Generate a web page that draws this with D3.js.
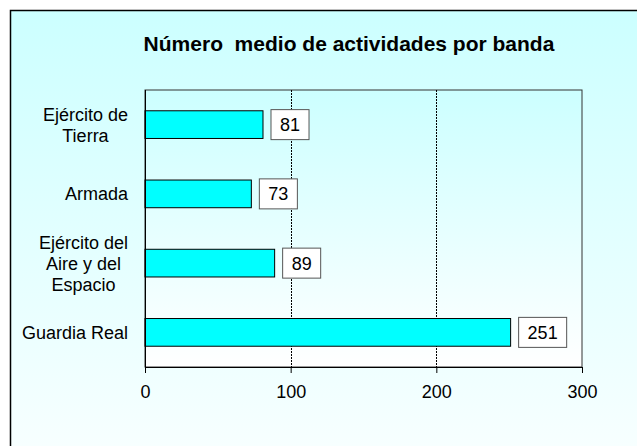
<!DOCTYPE html>
<html>
<head>
<meta charset="utf-8">
<script src="https://cdn.jsdelivr.net/npm/d3@7"></script>
<style>
  body { margin: 0; background: #fff; }
  text { font-family: "Liberation Sans", Arial, sans-serif; fill: #000; }
</style>
</head>
<body>
<svg id="chart" width="637" height="446"></svg>
<script>
const categories = ["Ejército de Tierra", "Armada", "Ejército del Aire y del Espacio", "Guardia Real"];
const labelLines = [["Ejército de", "Tierra"], ["Armada"], ["Ejército del", "Aire y del", "Espacio"], ["Guardia Real"]];
const values = [81, 73, 89, 251];
const xTicks = [0, 100, 200, 300];
const title = "Número\u00a0 medio de actividades por banda";

const svg = d3.select('#chart');
const width = 637, height = 446;
const margin = {top: 90, left: 145, right: 55, bottom: 79};
const innerWidth = width - margin.left - margin.right;
const innerHeight = height - margin.top - margin.bottom;

// gradients
const defs = svg.append('defs');
const outerGrad = defs.append('linearGradient').attr('id', 'outerGrad')
    .attr('x1', 0).attr('y1', 0).attr('x2', 0).attr('y2', 1);
outerGrad.append('stop').attr('offset', '0%').attr('stop-color', '#ccffff');
outerGrad.append('stop').attr('offset', '100%').attr('stop-color', '#f7ffff');
const plotGrad = defs.append('linearGradient').attr('id', 'plotGrad')
    .attr('x1', 0).attr('y1', 0).attr('x2', 0).attr('y2', 1);
plotGrad.append('stop').attr('offset', '0%').attr('stop-color', '#ccffff');
plotGrad.append('stop').attr('offset', '100%').attr('stop-color', '#ffffff');

svg.append('rect').attr('x', 0).attr('y', 0).attr('width', width).attr('height', height).attr('fill', '#fff');
svg.append('rect')
    .attr('x', 11).attr('y', 11)
    .attr('width', width - 11).attr('height', height - 11)
    .attr('fill', 'url(#outerGrad)');
// outer frame runs past the right and bottom edges like the reference
svg.append('path')
    .attr('d', 'M10.5,' + height + 'V10.5H' + width)
    .attr('fill', 'none')
    .attr('stroke', '#000').attr('stroke-width', 1.5);

svg.append('text')
    .attr('x', 349).attr('y', 51)
    .attr('text-anchor', 'middle')
    .attr('font-size', 21).attr('font-weight', 'bold')
    .text(title);

const x = d3.scaleLinear().domain([0, 300]).range([margin.left, margin.left + innerWidth]);
const y = d3.scaleBand().domain(categories).range([margin.top, margin.top + innerHeight]).paddingInner(0.6).paddingOuter(0.3);

svg.append('rect')
    .attr('x', margin.left).attr('y', margin.top)
    .attr('width', innerWidth).attr('height', innerHeight)
    .attr('fill', 'url(#plotGrad)')
    .attr('stroke', '#333').attr('stroke-width', 1);

// dotted grid lines
svg.selectAll('.grid')
    .data(xTicks.filter(d => d > 0 && d < 300))
    .enter().append('line')
    .attr('x1', d => Math.round(x(d)) + 0.5).attr('x2', d => Math.round(x(d)) + 0.5)
    .attr('y1', margin.top).attr('y2', margin.top + innerHeight)
    .attr('stroke', '#000').attr('stroke-width', 1)
    .attr('stroke-dasharray', '2,1');

// bars
svg.selectAll('.bar')
    .data(values)
    .enter().append('rect')
    .attr('x', x(0))
    .attr('y', (d, i) => y(categories[i]))
    .attr('width', d => x(d) - x(0))
    .attr('height', y.bandwidth())
    .attr('fill', '#00ffff')
    .attr('stroke', '#000').attr('stroke-width', 1);

// value boxes
values.forEach((d, i) => {
    const bx = x(d) + 8;
    const cy = y(categories[i]) + y.bandwidth() / 2;
    const rect = svg.append('rect')
        .attr('x', bx).attr('y', cy - 15)
        .attr('height', 30)
        .attr('fill', '#fff')
        .attr('stroke', '#555').attr('stroke-width', 1);
    const t = svg.append('text')
        .attr('font-size', 18)
        .attr('x', bx + 9)
        .attr('y', cy + 6.5)
        .text(d);
    rect.attr('width', t.node().getComputedTextLength() + 18);
});

// x axis
const xAxis = svg.append('g')
    .attr('transform', 'translate(0,' + (margin.top + innerHeight) + ')')
    .call(d3.axisBottom(x).tickValues(xTicks).tickSize(6).tickPadding(12));
xAxis.select('.domain').attr('stroke', '#000');
xAxis.selectAll('text').attr('font-size', 18).attr('font-family', '"Liberation Sans", Arial, sans-serif').attr('fill', '#000');

// y axis line
svg.append('line')
    .attr('x1', margin.left + 0.5).attr('x2', margin.left + 0.5)
    .attr('y1', margin.top).attr('y2', margin.top + innerHeight + 6)
    .attr('stroke', '#000');

// category labels (multi-line, centred in block, block right aligned)
const labelRight = 128;
categories.forEach((c, i) => {
    const lines = labelLines[i];
    const cy = y(c) + y.bandwidth() / 2;
    const lh = 21;
    const texts = lines.map((l, j) => svg.append('text')
        .attr('font-size', 18)
        .attr('text-anchor', 'middle')
        .attr('y', cy + (j - (lines.length - 1) / 2) * lh + 6.5)
        .text(l));
    const maxW = d3.max(texts, t => t.node().getComputedTextLength());
    texts.forEach(t => t.attr('x', labelRight - maxW / 2));
});
</script>
</body>
</html>
